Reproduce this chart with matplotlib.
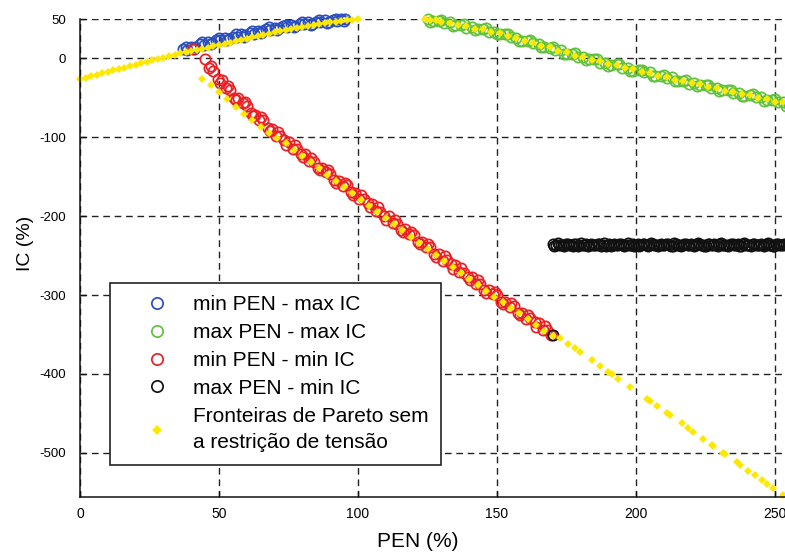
#!/usr/bin/env python3
"""Pareto fronts PEN x IC, with and without the voltage constraint."""

import matplotlib
matplotlib.use("Agg")
import matplotlib.pyplot as plt
from matplotlib import font_manager

# ---- data ----------------------------------------------------------------

# min PEN - max IC (blue circles)
blue_pen = [37, 38.5, 40, 41.5, 43, 44.5, 46, 47.5, 49, 50.5, 52, 53.5, 55, 56.5,
            58, 59.5, 61, 62.5, 64, 65.5, 67, 68.5, 70, 71.5, 73, 74.5, 76, 77.5,
            79, 80.5, 82, 83.5, 85, 86.5, 88, 89.5, 91, 92.5, 94, 95.5,
            38, 41, 44, 47, 50, 53, 56, 59, 62, 65, 68, 71, 74, 77, 80, 83, 86,
            89, 92, 95]
blue_ic = [12.2, 11.0, 14.3, 14.7, 18.6, 17.3, 20.4, 19.2, 23.2, 23.4, 26.0, 24.6,
           27.8, 27.8, 31.2, 29.4, 32.4, 31.2, 35.2, 35.3, 37.4, 35.6, 38.3, 38.1,
           41.4, 39.5, 42.1, 40.5, 44.0, 43.7, 45.6, 43.6, 46.1, 45.7, 48.7, 46.6,
           49.0, 47.2, 49.8, 49.5,
           14.5, 12.5, 20.5, 18.1, 25.5, 23.2, 30.7, 27.8, 35.1, 32.5, 39.3, 36.1,
           42.9, 39.5, 46.0, 42.4, 48.8, 45.1, 50.0, 47.3]

# max PEN - max IC (green circles)
green_pen = [125, 127, 129, 131, 133, 135, 137, 139, 141, 143, 145, 147, 149, 151,
             153, 155, 157, 159, 161, 163, 165, 167, 169, 171, 173, 175, 177, 179,
             181, 183, 185, 187, 189, 191, 193, 195, 197, 199, 201, 203, 205, 207,
             209, 211, 213, 215, 217, 219, 221, 223, 225, 227, 229, 231, 233, 235,
             237, 239, 241, 243, 245, 247, 249, 251, 253, 255,
             126, 130, 134, 138, 142, 146, 150, 154, 158, 162, 166, 170, 174, 178,
             182, 186, 190, 194, 198, 202, 206, 210, 214, 218, 222, 226, 230, 234,
             238, 242, 246, 250, 254]
green_ic = [49.6, 47.1, 47.6, 45.1, 46.2, 42.0, 42.4, 38.7, 40.1, 37.8, 37.6, 33.5,
            34.0, 31.2, 31.6, 26.6, 26.4, 21.9, 22.7, 19.6, 18.7, 14.0, 13.7, 10.5,
            10.9, 6.0, 5.8, 1.3, 2.0, -0.8, -1.3, -5.7, -5.5, -8.3, -7.5, -12.0,
            -11.9, -16.0, -14.8, -17.4, -17.8, -22.1, -21.9, -24.6, -23.8, -28.2,
            -28.0, -32.0, -30.8, -33.4, -33.8, -38.0, -37.7, -40.4, -39.5, -43.8,
            -43.5, -47.4, -46.2, -48.7, -49.0, -53.2, -52.9, -55.6, -54.8, -59.2,
            46.5, 48.6, 41.4, 43.6, 35.9, 38.2, 30.4, 31.4, 22.3, 23.2, 14.0, 14.9,
            5.8, 6.7, -2.4, -0.9, -9.2, -7.5, -15.9, -14.1, -22.3, -20.5, -28.7,
            -26.9, -35.1, -33.3, -41.3, -39.4, -47.4, -45.4, -53.5, -51.5, -59.7]

# min PEN - min IC (red circles)
red_pen = [40.5, 45, 46.5, 48, 49.5, 51, 52.5, 54, 55.5, 57, 58.5, 60, 61.5, 63,
           64.5, 66, 67.5, 69, 70.5, 72, 73.5, 75, 76.5, 78, 79.5, 81, 82.5, 84,
           85.5, 87, 88.5, 90, 91.5, 93, 94.5, 96, 97.5, 99, 100.5, 102, 103.5,
           105, 106.5, 108, 109.5, 111, 112.5, 114, 115.5, 117, 118.5, 120, 121.5,
           123, 124.5, 126, 127.5, 129, 130.5, 132, 133.5, 135, 136.5, 138, 139.5,
           141, 142.5, 144, 145.5, 147, 148.5, 150, 151.5, 153, 154.5, 156, 157.5,
           159, 160.5, 162, 163.5, 165, 166.5, 168, 169.5,
           47.2, 50.2, 53.2, 56.2, 59.2, 62.2, 65.2, 68.2, 71.2, 74.2, 77.2, 80.2,
           83.2, 86.2, 89.2, 92.2, 95.2, 98.2, 101.2, 104.2, 107.2, 110.2, 113.2,
           116.2, 119.2, 122.2, 125.2, 128.2, 131.2, 134.2, 137.2, 140.2, 143.2,
           146.2, 149.2, 152.2, 155.2, 158.2, 161.2, 164.2, 167.2]
red_ic = [12.0, -1.0, -11.8, -16.5, -26.0, -27.6, -38.0, -40.4, -49.7, -50.3, -56.9,
          -60.0, -69.3, -71.1, -77.9, -78.1, -87.9, -89.6, -98.3, -98.5, -103.9,
          -105.9, -114.3, -115.3, -121.2, -120.7, -129.8, -130.8, -138.9, -138.4,
          -143.9, -146.0, -154.4, -155.3, -161.2, -160.6, -169.5, -170.4, -178.3,
          -177.7, -183.1, -185.0, -193.4, -194.3, -200.2, -199.6, -208.5, -209.4,
          -217.3, -216.7, -222.1, -224.0, -232.4, -233.3, -239.2, -238.6, -247.5,
          -248.4, -256.3, -255.5, -260.8, -262.5, -270.8, -271.5, -277.3, -276.6,
          -285.4, -286.2, -294.0, -293.4, -298.7, -300.4, -308.4, -309.0, -314.5,
          -313.5, -322.1, -322.6, -330.2, -329.3, -334.4, -336.0, -344.1, -344.7,
          -350.3,
          -9.0, -31.7, -34.5, -53.1, -55.3, -73.0, -74.6, -92.1, -93.5, -109.8,
          -109.7, -125.5, -125.6, -141.7, -141.8, -157.7, -157.5, -173.3, -173.1,
          -188.9, -188.7, -204.5, -204.3, -220.1, -219.9, -235.7, -235.5, -251.3,
          -251.0, -266.5, -266.0, -281.5, -281.2, -296.8, -296.5, -311.6, -310.6,
          -325.7, -324.9, -340.1, -339.3]

# max PEN - min IC (black circles)
black_pen = [170.2, 170.0, 171.2, 172.4, 173.6, 174.8, 176.0, 177.2, 178.4, 179.6,
             180.8, 182.0, 183.2, 184.4, 185.6, 186.8, 188.0, 189.2, 190.4, 191.6,
             192.8, 194.0, 195.2, 196.4, 197.6, 198.8, 200.0, 201.2, 202.4, 203.6,
             204.8, 206.0, 207.2, 208.4, 209.6, 210.8, 212.0, 213.2, 214.4, 215.6,
             216.8, 218.0, 219.2, 220.4, 221.6, 222.8, 224.0, 225.2, 226.4, 227.6,
             228.8, 230.0, 231.2, 232.4, 233.6, 234.8, 236.0, 237.2, 238.4, 239.6,
             240.8, 242.0, 243.2, 244.4, 245.6, 246.8, 248.0, 249.2, 250.4, 251.6,
             252.8, 254.0, 255.2,
             170.6, 171.8, 173.0, 174.2, 175.4, 176.6, 177.8, 179.0, 180.2, 181.4,
             182.6, 183.8, 185.0, 186.2, 187.4, 188.6, 189.8, 191.0, 192.2, 193.4,
             194.6, 195.8, 197.0, 198.2, 199.4, 200.6, 201.8, 203.0, 204.2, 205.4,
             206.6, 207.8, 209.0, 210.2, 211.4, 212.6, 213.8, 215.0, 216.2, 217.4,
             218.6, 219.8, 221.0, 222.2, 223.4, 224.6, 225.8, 227.0, 228.2, 229.4,
             230.6, 231.8, 233.0, 234.2, 235.4, 236.6, 237.8, 239.0, 240.2, 241.4,
             242.6, 243.8, 245.0, 246.2, 247.4, 248.6, 249.8, 251.0, 252.2, 253.4,
             254.6]
black_ic = [-350.5, -235.5, -236.8, -235.9, -237.0, -235.2, -236.4, -237.2, -235.6,
            -236.0, -236.9, -235.5, -236.8, -235.9, -237.0, -235.2, -236.4, -237.2,
            -235.6, -236.0, -236.9, -235.5, -236.8, -235.9, -237.0, -235.2, -236.4,
            -237.2, -235.6, -236.0, -236.9, -235.5, -236.8, -235.9, -237.0, -235.2,
            -236.4, -237.2, -235.6, -236.0, -236.9, -235.5, -236.8, -235.9, -237.0,
            -235.2, -236.4, -237.2, -235.6, -236.0, -236.9, -235.5, -236.8, -235.9,
            -237.0, -235.2, -236.4, -237.2, -235.6, -236.0, -236.9, -235.5, -236.8,
            -235.9, -237.0, -235.2, -236.4, -237.2, -235.6, -236.0, -236.9, -235.5,
            -236.8,
            -237.6, -234.6, -236.2, -238.0, -234.9, -237.0, -235.4, -237.6, -234.6,
            -236.2, -238.0, -234.9, -237.0, -235.4, -237.6, -234.6, -236.2, -238.0,
            -234.9, -237.0, -235.4, -237.6, -234.6, -236.2, -238.0, -234.9, -237.0,
            -235.4, -237.6, -234.6, -236.2, -238.0, -234.9, -237.0, -235.4, -237.6,
            -234.6, -236.2, -238.0, -234.9, -237.0, -235.4, -237.6, -234.6, -236.2,
            -238.0, -234.9, -237.0, -235.4, -237.6, -234.6, -236.2, -238.0, -234.9,
            -237.0, -235.4, -237.6, -234.6, -236.2, -238.0, -234.9, -237.0, -235.4,
            -237.6, -234.6, -236.2, -238.0, -234.9, -237.0, -235.4, -237.6]

# Pareto fronts without the voltage constraint (yellow dots)
yellow_pen = [
    # rising branch
    0, 2, 4, 6, 8, 10, 12, 14, 16, 18, 20, 22, 24, 26, 28, 30, 32, 34, 36, 38,
    40, 42, 44, 46, 48, 50, 52, 54, 56, 58, 60, 62, 64, 66, 68, 70, 72, 74, 76,
    78, 80, 82, 84, 86, 88, 90, 92, 94, 96, 98, 100,
    # upper right branch
    124, 126, 128, 130, 133, 136, 139, 142, 145, 148, 151, 154, 157, 160, 163,
    166, 169, 172, 175, 178, 181, 184, 187, 190, 193, 196, 199, 202, 205, 208,
    211, 214, 217, 220, 223, 226, 229, 232, 235, 238, 241, 244, 247, 250, 253,
    # falling branch
    44, 47, 50, 53, 56, 59, 62, 65, 68, 71, 74, 77, 80, 83, 86, 89, 92, 95, 98,
    101, 104, 107, 110, 113, 116, 119, 122, 125, 128, 131, 134, 137, 140, 143,
    146, 149, 152, 155, 158, 161, 164, 167, 170,
    172.7, 175.7, 178.1, 179.9, 184.1, 187.1, 190.0, 191.3, 193.6, 197.8, 203.9,
    205.0, 207.4, 211.0, 212.2, 216.4, 218.8, 220.6, 224.2, 227.2, 227.8, 231.4,
    232.0, 236.2, 237.4, 240.4, 242.8, 245.2, 247.0, 249.4, 253.0,
]
yellow_ic = [
    -26, -24.2, -22.4, -20.6, -18.8, -17, -15.2, -13.4, -11.6, -9.8, -8, -6.2,
    -4.4, -2.6, -0.8, 0.9, 2.8, 4.6, 6.3, 7.8, 9.3, 10.8, 12.3, 13.8, 15.4, 17,
    18.6, 20.2, 21.8, 23.4, 25, 26.6, 28.2, 29.8, 31.4, 33, 34.4, 35.8, 37.2,
    38.6, 40, 41.2, 42.4, 43.6, 44.8, 46, 46.8, 47.6, 48.4, 49.2, 49.8,
    49.6, 48.4, 48.5, 46.0, 45.2, 41.9, 41.1, 37.8, 37.0, 33.7, 32.6, 28.3, 26.4,
    22.1, 20.2, 15.9, 14.0, 9.7, 7.8, 3.5, 1.6, -2.3, -3.6, -7.3, -8.5, -12.3,
    -13.6, -17.2, -18.4, -22.0, -23.2, -26.8, -28.0, -31.6, -32.8, -36.4, -37.4,
    -41.0, -42.0, -45.5, -46.6, -50.0, -51.1, -54.6, -55.8,
    -26, -34, -43, -52, -61, -70, -78.6, -87, -94.1, -101, -107.5, -115.5,
    -123.5, -131.5, -139.5, -147.5, -155.5, -163, -171, -179, -186.5, -194.5,
    -202.5, -210, -218, -226, -233.5, -241.5, -249.5, -257, -264.5, -272,
    -279.5, -287, -294.5, -302, -309, -316, -323, -330.5, -338, -345, -352,
    -354, -361.5, -367.4, -371.9, -382.4, -389.9, -397.1, -400.3, -406, -416.5,
    -431.7, -434.4, -440.4, -449.4, -452.4, -462.8, -468.8, -473.3, -482.2,
    -489.7, -491.2, -500.2, -501.7, -512.1, -515.1, -522.6, -528.5, -534.5,
    -539, -545, -554,
]

series_labels = ["min PEN - max IC", "max PEN - max IC", "min PEN - min IC",
                 "max PEN - min IC",
                 "Fronteiras de Pareto sem\na restrição de tensão"]
x_ticks = [0, 50, 100, 150, 200, 250]
y_ticks = [-500, -400, -300, -200, -100, 0, 50]


def pick_font(candidates):
    available = {f.name for f in font_manager.fontManager.ttflist}
    for name in candidates:
        if name in available:
            return name
    return "DejaVu Sans"


def main():
    text_font = pick_font(["Liberation Sans", "Arial", "DejaVu Sans"])
    plt.rcParams["font.family"] = text_font
    plt.rcParams["axes.unicode_minus"] = False

    fig = plt.figure(figsize=(7.85, 5.58), dpi=100)
    ax = fig.add_axes([80 / 785, 61 / 558, 722.8 / 785, 478 / 558])

    circle = dict(linestyle="none", marker="o", markersize=7.4,
                  markerfacecolor="none", markeredgewidth=1.25, clip_on=False)
    ax.plot(blue_pen, blue_ic, markeredgecolor="#2c4fbf", label=series_labels[0], **circle)
    ax.plot(green_pen, green_ic, markeredgecolor="#5ec23c", label=series_labels[1], **circle)
    ax.plot(red_pen, red_ic, markeredgecolor="#ec1f24", label=series_labels[2], **circle)
    ax.plot(black_pen, black_ic, markeredgecolor="#111111", label=series_labels[3], **circle)
    ax.plot(yellow_pen, yellow_ic, linestyle="none", marker="D", markersize=4.4,
            color="#ffe800", markeredgewidth=0, clip_on=False,
            label=series_labels[4])

    ax.set_xlim(0, 260)
    ax.set_ylim(-556, 50)
    ax.set_xticks(x_ticks)
    ax.set_yticks(y_ticks)
    ax.grid(True, color="#222222", linestyle=(0, (4.8, 3.4)), linewidth=1.0)
    ax.set_axisbelow(True)

    for side in ["top", "right"]:
        ax.spines[side].set_visible(False)
    for side in ["left", "bottom"]:
        ax.spines[side].set_linewidth(1.1)
        ax.spines[side].set_color("#111111")

    ax.tick_params(axis="both", direction="in", length=4, width=1.0, color="#111111")
    ax.tick_params(axis="x", pad=7, labelsize=10)
    ax.tick_params(axis="y", pad=10, labelsize=9.5)

    ax.set_xlabel("PEN (%)", fontsize=15)
    ax.xaxis.set_label_coords((418 - 80) / 722.8, (497 - 532) / 478)
    ax.set_ylabel("IC (%)", fontsize=14)
    ax.yaxis.set_label_coords((34 - 80) / 722.8, (497 - 243) / 478)

    leg = ax.legend(loc="upper left", bbox_to_anchor=((110 - 80) / 722.8, (497 - 283) / 478),
                    fontsize=15, borderaxespad=0, borderpad=0.6, handlelength=3.35,
                    handletextpad=0.05, labelspacing=0.42, markerscale=1.1,
                    fancybox=False, framealpha=1, edgecolor="#222222")
    leg.get_frame().set_linewidth(1.2)
    leg.set_zorder(10)
    for txt in leg.get_texts():
        txt.set_linespacing(1.52)

    fig.savefig("out.png", dpi=100, facecolor="white")
    plt.close(fig)


if __name__ == "__main__":
    main()
